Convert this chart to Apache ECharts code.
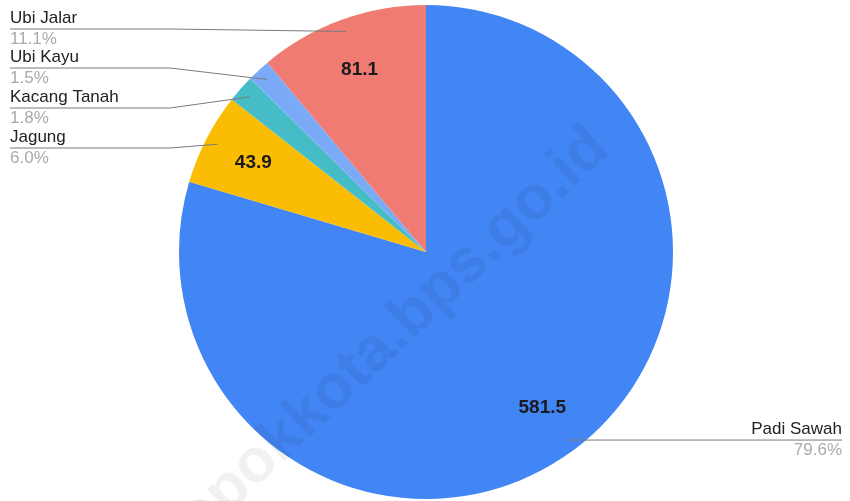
<!DOCTYPE html>
<html>
<head>
<meta charset="utf-8">
<script src="https://cdn.jsdelivr.net/npm/echarts@6/dist/echarts.min.js"></script>
<style>
  html, body { margin: 0; padding: 0; background: #fff; }
  #main { width: 850px; height: 501px; }
</style>
</head>
<body>
<div id="main"></div>
<script>
// data, urutan searah jarum jam mulai dari atas
var categories = ['Padi Sawah', 'Jagung', 'Kacang Tanah', 'Ubi Kayu', 'Ubi Jalar'];
var values = [581.5, 43.9, 13.1, 11.0, 81.1];
var colors = ['#4285F4', '#FBBC04', '#46BDC6', '#7BAAF7', '#F07B72'];

// layout
var C = [426, 252];   // pusat pie
var R = 247;          // jari-jari
var leftLineY = [null, 148, 108, 68, 29]; // y garis label sisi kiri

var total = values.reduce(function (a, b) { return a + b; }, 0);

// titik di tengah sudut irisan ke-i pada jarak r
function pointAt(i, r) {
  var cum = 0;
  for (var k = 0; k < i; k++) cum += values[k];
  var t = (cum + values[i] / 2) / total * Math.PI * 2;
  return [C[0] + Math.sin(t) * r, C[1] - Math.cos(t) * r];
}

function plainData() {
  return categories.map(function (name, i) { return { name: name, value: values[i] }; });
}

var fontFamily = '"Liberation Sans", Arial, sans-serif';
var myChart = echarts.init(document.getElementById('main'));
myChart.setOption({
  animation: false,
  textStyle: { fontFamily: fontFamily },
  graphic: [{
    type: 'text',
    z: 100,
    silent: true,
    x: 381,
    y: 346,
    rotation: 43.4 * Math.PI / 180,
    style: {
      text: 'depokkota.bps.go.id',
      fontSize: 62,
      fontWeight: 'bold',
      fontFamily: fontFamily,
      fill: 'rgba(0,0,0,0.055)',
      align: 'center',
      verticalAlign: 'middle'
    }
  }],
  series: [
    {
      // irisan berwarna
      type: 'pie',
      center: C,
      radius: R,
      startAngle: 90,
      clockwise: true,
      emphasis: { disabled: true },
      itemStyle: { borderWidth: 0 },
      label: { show: false },
      labelLine: { show: false },
      data: categories.map(function (name, i) {
        return { name: name, value: values[i], itemStyle: { color: colors[i] } };
      })
    },
    {
      // label nama + persen dengan garis penunjuk (di atas irisan)
      type: 'pie',
      center: C,
      radius: R,
      startAngle: 90,
      clockwise: true,
      silent: true,
      avoidLabelOverlap: false,
      z: 3,
      itemStyle: { color: 'rgba(0,0,0,0)', borderWidth: 0 },
      label: {
        show: true,
        position: 'outer',
        formatter: function (p) {
          return '{n|' + p.name + '}\n{p|' + p.percent.toFixed(1) + '%}';
        },
        rich: {
          n: { fontSize: 17, color: '#222', lineHeight: 22 },
          p: { fontSize: 17, color: '#aaaaaa', lineHeight: 21 }
        }
      },
      labelLine: { show: true, lineStyle: { color: '#7a7a7a', width: 1 } },
      labelLayout: function (p) {
        var i = p.dataIndex;
        var dot = pointAt(i, R * 0.95);
        if (i === 0) {
          return {
            x: 842, y: dot[1] - 0.5, align: 'right', verticalAlign: 'middle',
            labelLinePoints: [dot, [700, dot[1]], [842, dot[1]]]
          };
        }
        var y = leftLineY[i];
        return {
          x: 10, y: y - 0.5, align: 'left', verticalAlign: 'middle',
          labelLinePoints: [dot, [170, y], [10, y]]
        };
      },
      data: plainData()
    },
    {
      // label nilai di dalam irisan
      type: 'pie',
      center: C,
      radius: [R * 0.55, R],
      startAngle: 90,
      clockwise: true,
      silent: true,
      z: 4,
      itemStyle: { color: 'rgba(0,0,0,0)', borderWidth: 0 },
      label: {
        show: true,
        position: 'inside',
        formatter: function (p) { return p.value >= 40 ? p.value.toFixed(1) : ''; },
        fontSize: 19,
        fontWeight: 'bold',
        color: '#1a1a1a'
      },
      labelLine: { show: false },
      data: plainData()
    }
  ]
});
</script>
</body>
</html>
